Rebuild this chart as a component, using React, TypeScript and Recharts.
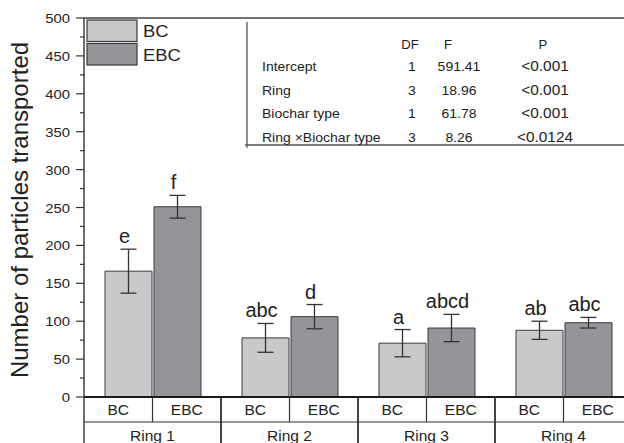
import { Bar, ComposedChart, ErrorBar, LabelList, ReferenceLine, XAxis, YAxis } from "recharts";

const rings = ["Ring 1", "Ring 2", "Ring 3", "Ring 4"];
const bcMean = [166, 78, 71, 88];
const bcErr = [29, 19, 18, 12];
const ebcMean = [251, 106, 91, 98];
const ebcErr = [15, 16, 18, 7];
const bcLetters = ["e", "abc", "a", "ab"];
const ebcLetters = ["f", "d", "abcd", "abc"];

const yTicks = [0, 25, 50, 75, 100, 125, 150, 175, 200, 225, 250, 275, 300, 325, 350, 375, 400, 425, 450, 475, 500];

// two-way ANOVA summary printed inside the plot
const effects = ["Intercept", "Ring", "Biochar type", "Ring \u00d7Biochar type"];
const dfs = ["1", "3", "1", "3"];
const fValues = ["591.41", "18.96", "61.78", "8.26"];
const pValues = ["<0.001", "<0.001", "<0.001", "<0.0124"];

const series = [
  { key: "bc", errKey: "bcErr", name: "BC", fill: "#c8c9cb", letters: bcLetters, errs: bcErr },
  { key: "ebc", errKey: "ebcErr", name: "EBC", fill: "#939598", letters: ebcLetters, errs: ebcErr },
];

const data = rings.map((ring, i) => ({
  ring,
  bc: bcMean[i],
  bcErr: bcErr[i],
  ebc: ebcMean[i],
  ebcErr: ebcErr[i],
}));

const FONT = '"Liberation Sans", Arial, Helvetica, sans-serif';
const INK = "#222";
const LINE = "#333";

function Txt({ x, y, size, anchor = "middle", sx = 1, children }: any) {
  return (
    <text
      transform={`translate(${x},${y}) scale(${sx},1)`}
      fontSize={size}
      fontFamily={FONT}
      textAnchor={anchor}
      fill={INK}
    >
      {children}
    </text>
  );
}

function YTick(props: any) {
  const { x, y, payload } = props;
  const v = payload.value;
  const major = v % 50 === 0;
  return (
    <g>
      <line x1={x - (major ? 8 : 4)} x2={x} y1={y} y2={y} stroke={LINE} strokeWidth={1.2} />
      {major && (
        <Txt x={x - 14} y={y + 5} size={13.5} anchor="end" sx={1.1}>
          {v}
        </Txt>
      )}
    </g>
  );
}

// two-row category table under the bars: BC / EBC cells, then the ring name
function XTick(props: any) {
  const { x, y, payload } = props;
  const half = payload.offset || 68.5;
  const row = 25;
  const full = 60;
  return (
    <g>
      <line x1={x - half} x2={x - half} y1={y} y2={y + full} stroke={LINE} strokeWidth={1.4} />
      <line x1={x + half} x2={x + half} y1={y} y2={y + full} stroke={LINE} strokeWidth={1.4} />
      <line x1={x} x2={x} y1={y} y2={y + row} stroke={LINE} strokeWidth={1.2} />
      <line x1={x - half} x2={x + half} y1={y + row} y2={y + row} stroke={LINE} strokeWidth={1.2} />
      {series.map((s, i) => (
        <Txt key={s.key} x={x + (i === 0 ? -half / 2 : half / 2)} y={y + 18} size={15.5}>
          {s.name}
        </Txt>
      ))}
      <Txt x={x} y={y + 44} size={15.5}>
        {payload.value}
      </Txt>
    </g>
  );
}

function letterLabel(s: (typeof series)[number]) {
  return (props: any) => {
    const { x, y, width, height, value, index } = props;
    const top = y - s.errs[index] * (height / value);
    return (
      <Txt key={index} x={x + width / 2 - 4} y={top - 6} size={20}>
        {s.letters[index]}
      </Txt>
    );
  };
}

export default function App() {
  return (
    <div style={{ position: "absolute", left: 0, top: 0, width: 624, height: 443, overflow: "hidden", background: "#fff" }}>
      <ComposedChart
        width={640}
        height={455}
        data={data}
        margin={{ top: 18, right: 8, bottom: 0, left: 0 }}
        barGap={2}
        barCategoryGap={21}
      >
        <XAxis
          dataKey="ring"
          height={58}
          tickLine={false}
          tickSize={0}
          tickMargin={0}
          axisLine={{ stroke: "#1a1a1a", strokeWidth: 2.2 }}
          tick={<XTick />}
          interval={0}
        />
        <YAxis
          width={84}
          domain={[0, 500]}
          ticks={yTicks}
          interval={0}
          tickLine={false}
          tickSize={0}
          tickMargin={0}
          axisLine={{ stroke: LINE, strokeWidth: 1.4 }}
          tick={<YTick />}
        />
        <ReferenceLine y={500} stroke="#444" strokeWidth={1.4} />
        {series.map((s) => (
          <Bar key={s.key} dataKey={s.key} fill={s.fill} stroke="#3a3a3a" strokeWidth={1} isAnimationActive={false}>
            <ErrorBar dataKey={s.errKey} width={8} stroke={LINE} strokeWidth={1.3} direction="y" />
            <LabelList dataKey={s.key} content={letterLabel(s)} />
          </Bar>
        ))}

        <text
          transform="translate(28,210) rotate(-90)"
          fontSize={24}
          fontFamily={FONT}
          textAnchor="middle"
          fill={INK}
        >
          Number of particles transported
        </text>

        {series.map((s, i) => (
          <g key={s.key}>
            <rect x={87} y={20 + i * 23.5} width={50} height={21.5} fill={s.fill} stroke="#3a3a3a" strokeWidth={1.2} />
            <Txt x={143} y={37 + i * 24} size={16} anchor="start" sx={1.15}>
              {s.name}
            </Txt>
          </g>
        ))}

        <line x1={247} x2={247} y1={22} y2={148} stroke="#555" strokeWidth={1.3} />
        <line x1={245} x2={640} y1={145} y2={145} stroke="#555" strokeWidth={1.3} />
        <Txt x={410} y={49} size={12} sx={1.1}>DF</Txt>
        <Txt x={448} y={49} size={12} sx={1.1}>F</Txt>
        <Txt x={543} y={49} size={12} sx={1.1}>P</Txt>
        {effects.map((e, i) => (
          <g key={e}>
            <Txt x={262} y={71 + i * 23.6} size={12.5} anchor="start" sx={1.12}>{e}</Txt>
            <Txt x={412} y={71 + i * 23.6} size={12.5} sx={1.12}>{dfs[i]}</Txt>
            <Txt x={459} y={71 + i * 23.6} size={12.5} sx={1.12}>{fValues[i]}</Txt>
            <Txt x={545} y={71 + i * 23.6} size={14} sx={1.1}>{pValues[i]}</Txt>
          </g>
        ))}
      </ComposedChart>
    </div>
  );
}
